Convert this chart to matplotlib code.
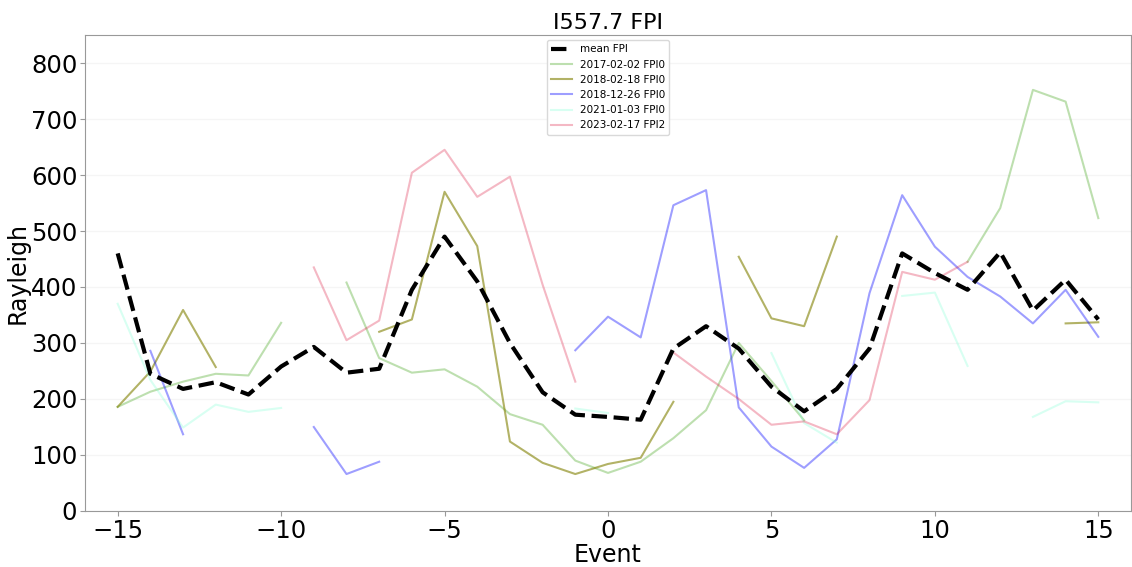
import numpy as np
import matplotlib
matplotlib.use("Agg")
import matplotlib.pyplot as plt

nan = np.nan
events = np.arange(-15, 16)

mean_fpi = [460, 245, 218, 230, 208, 258, 293, 247, 254, 395, 490,
            410, 300, 212, 172, 168, 163, 290, 330, 290, 222,
            178, 218, 290, 460, 425, 395, 462, 358, 413, 342]

fpi_2017_02_02 = [186, 213, 231, 245, 242, 336, nan, 408, 273, 247, 253,
                  222, 173, 154, 90, 68, 88, 130, 180, 300, 232,
                  162, nan, nan, nan, nan, 445, 541, 752, 731, 523]

fpi_2018_02_18 = [186, 249, 359, 257, nan, nan, nan, nan, 320, 342, 570,
                  473, 124, 86, 66, 84, 95, 195, nan, 454, 344,
                  330, 490, nan, nan, nan, nan, nan, nan, 335, 337]

fpi_2018_12_26 = [nan, 286, 137, nan, nan, nan, 150, 66, 88, nan, nan,
                  nan, nan, nan, 287, 347, 310, 546, 573, 185, 115,
                  77, 128, 389, 564, 472, 418, 383, 335, 395, 311]

fpi_2021_01_03 = [370, 234, 149, 190, 177, 184, nan, nan, nan, nan, nan,
                  nan, nan, nan, 183, 175, nan, nan, nan, nan, 282,
                  157, 122, nan, 384, 390, 259, nan, 168, 196, 194]

fpi_2023_02_17 = [nan, nan, nan, nan, nan, nan, 435, 305, 340, 604, 645,
                  561, 597, 404, 231, nan, nan, 283, 240, 200, 154,
                  160, 137, 198, 427, 413, 445, nan, nan, nan, nan]

series = [
    ("2017-02-02 FPI0", fpi_2017_02_02, "#7cc060", 0.5),
    ("2018-02-18 FPI0", fpi_2018_02_18, "olive", 0.6),
    ("2018-12-26 FPI0", fpi_2018_12_26, "blue", 0.38),
    ("2021-01-03 FPI0", fpi_2021_01_03, "aquamarine", 0.3),
    ("2023-02-17 FPI2", fpi_2023_02_17, "crimson", 0.3),
]

fig = plt.figure(figsize=(11.32, 5.67), dpi=100)
ax = fig.add_axes([85 / 1132, 56 / 567, 1046 / 1132, 476 / 567])

ax.plot(events, mean_fpi, "k--", lw=3, label="mean FPI", zorder=5)
for label, vals, color, alpha in series:
    ax.plot(events, vals, color=color, alpha=alpha, lw=1.5, label=label)

ax.set_xlim(-16, 16)
ax.set_ylim(0, 850)
ax.yaxis.grid(True, color="0.96", lw=1)
ax.set_axisbelow(True)
for sp in ax.spines.values():
    sp.set_color("0.6")
ax.tick_params(colors="0.6", labelcolor="black", labelsize=17.5, pad=2)

ax.set_xlabel("Event", fontsize=17, labelpad=0)
ax.set_ylabel("Rayleigh", fontsize=17, labelpad=1)
ax.set_title("I557.7 FPI", fontsize=16, pad=4)
ax.legend(loc="upper center", fontsize=7.5, framealpha=1, edgecolor="0.85")

plt.savefig("out.png", dpi=100)
